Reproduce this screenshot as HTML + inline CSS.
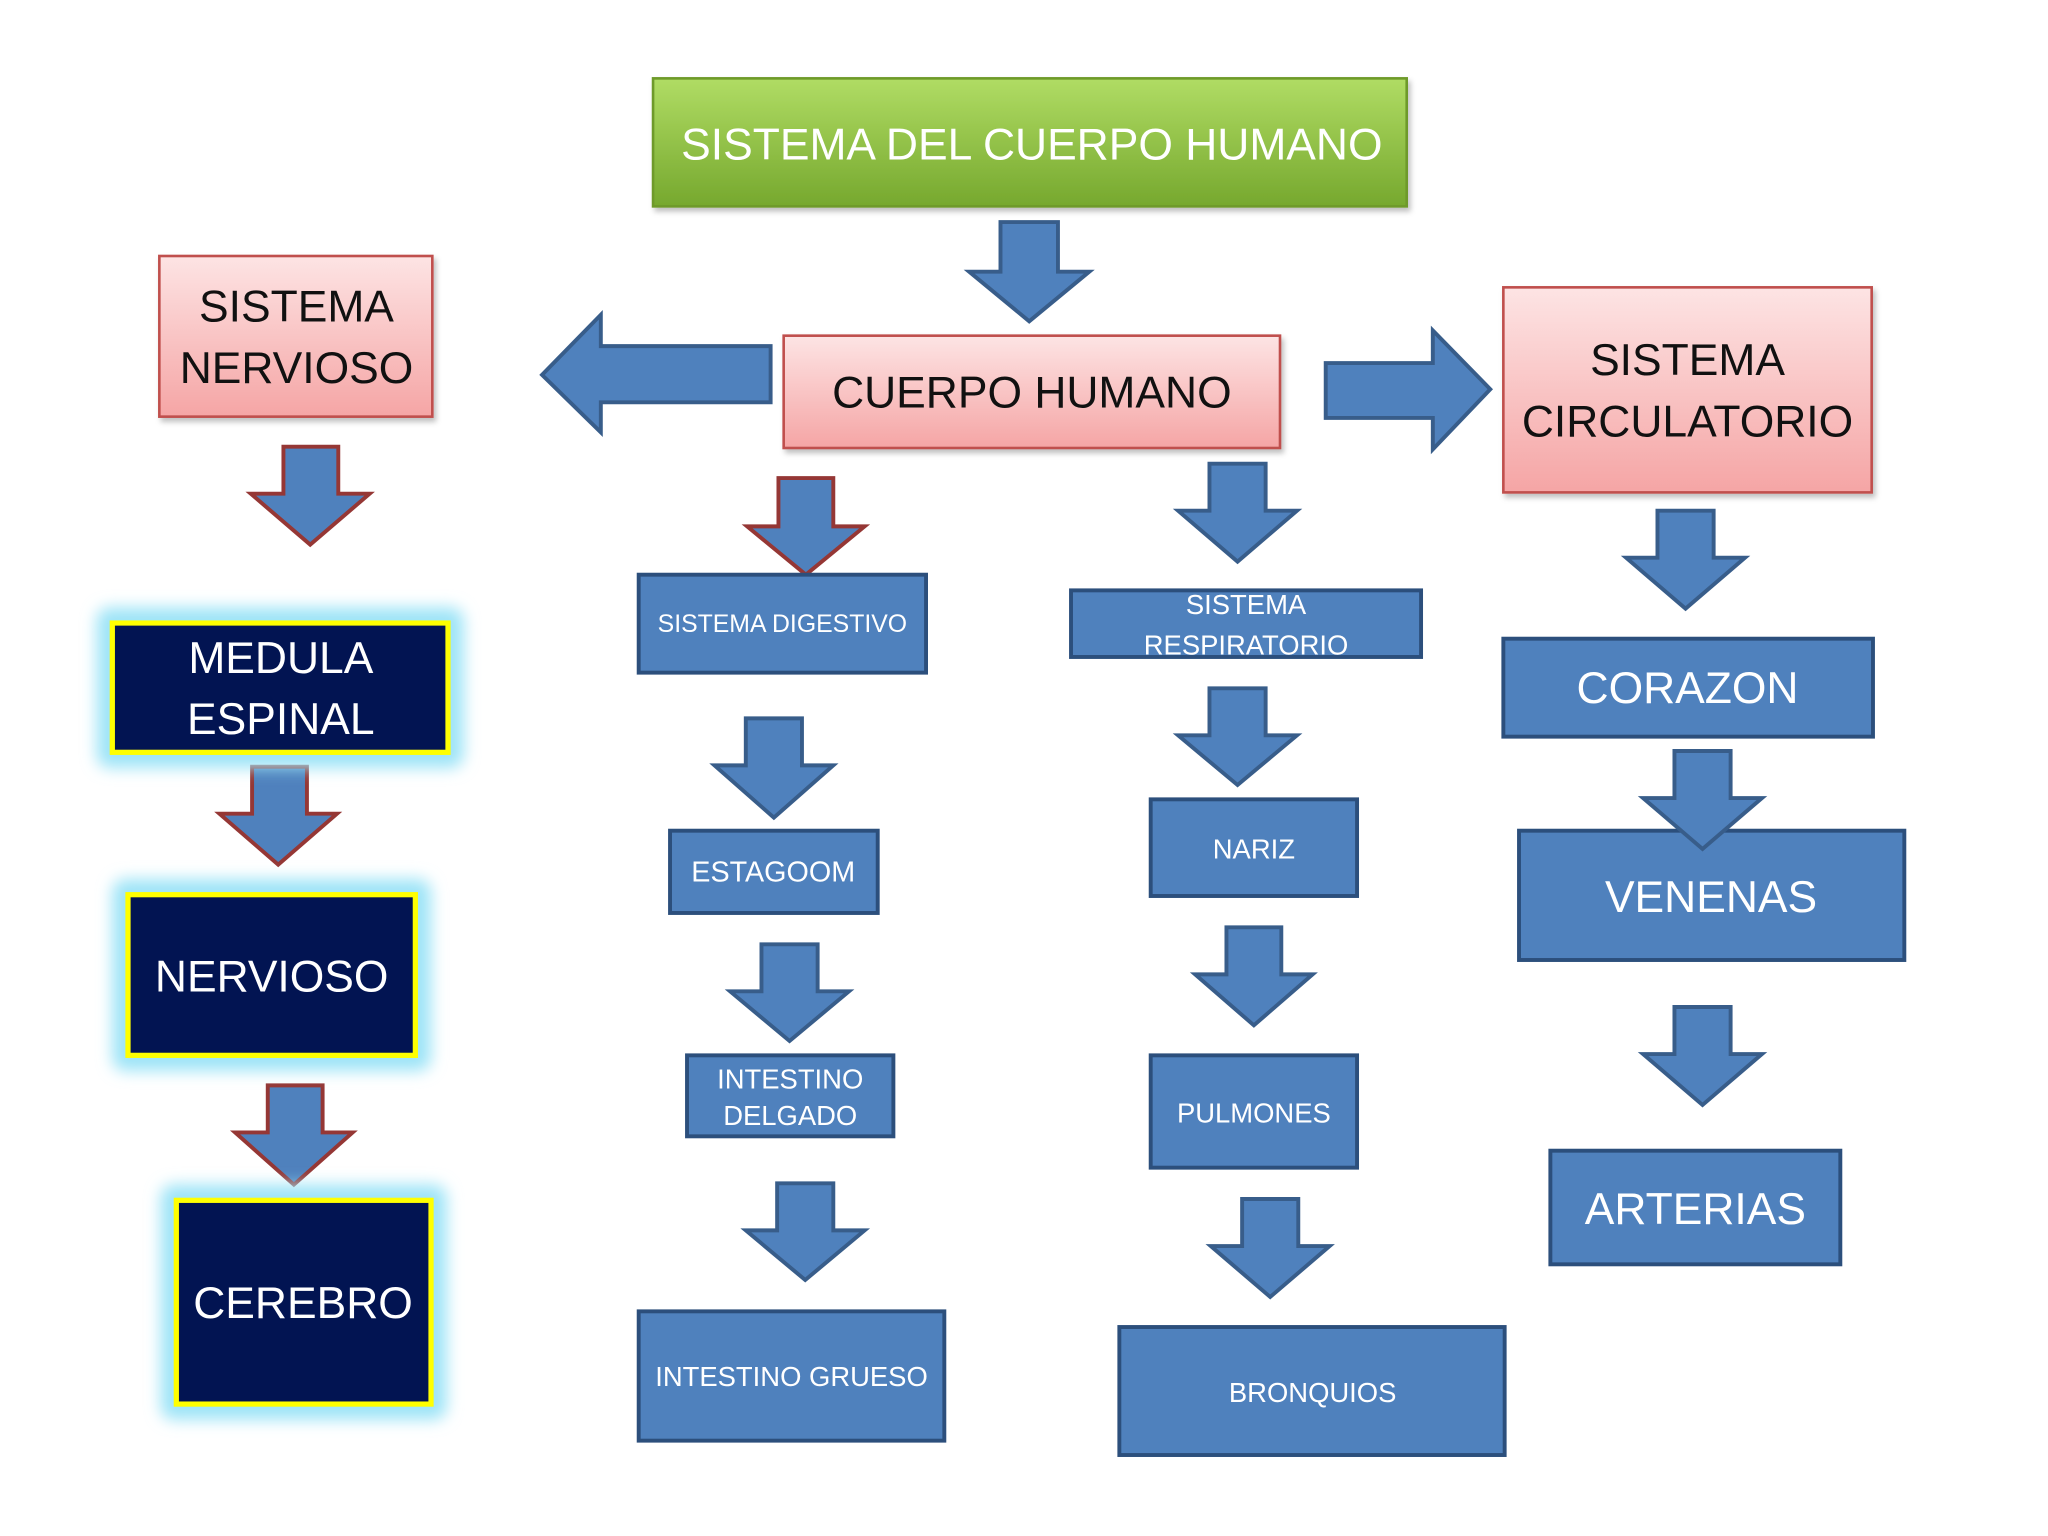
<!DOCTYPE html>
<html><head><meta charset="utf-8"><style>
html,body{margin:0;padding:0;background:#fff;}
svg{display:block;}
text{font-family:"Liberation Sans Narrow","Liberation Sans",sans-serif;text-anchor:middle;dominant-baseline:central;}
</style></head><body>
<svg width="2048" height="1536" viewBox="0 0 1568 1176" xmlns="http://www.w3.org/2000/svg">
<defs>
<linearGradient id="gr" x1="0" y1="0" x2="0" y2="1"><stop offset="0" stop-color="#b0dc64"/><stop offset="1" stop-color="#76a82e"/></linearGradient>
<linearGradient id="pk" x1="0" y1="0" x2="0" y2="1"><stop offset="0" stop-color="#fde4e4"/><stop offset="1" stop-color="#f5a5a5"/></linearGradient>
<filter id="glow" x="-20%" y="-20%" width="140%" height="140%"><feGaussianBlur stdDeviation="6"/></filter>
<filter id="sh" x="-5%" y="-5%" width="110%" height="120%"><feDropShadow dx="2" dy="3" stdDeviation="2" flood-color="#000" flood-opacity="0.25"/></filter>
<symbol id="ad" viewBox="0 0 91 76" overflow="visible"><path d="M24 0 H67 V36 H91 L45.5 76 L0 36 H24 Z"/></symbol>
</defs>

<!-- green title -->
<rect x="500" y="60" width="577" height="98" fill="url(#gr)" stroke="#6e9a2c" stroke-width="2" filter="url(#sh)"/>
<text x="790" y="111" font-size="34" fill="#fff">SISTEMA DEL CUERPO HUMANO</text>

<!-- pink boxes -->
<g fill="url(#pk)" stroke="#c0504d" stroke-width="2" filter="url(#sh)">
<rect x="122" y="196" width="209" height="123"/>
<rect x="600" y="257" width="380" height="86"/>
<rect x="1151" y="220" width="282" height="157"/>
</g>
<g font-size="34" fill="#111">
<text x="227" y="235">SISTEMA</text><text x="227" y="282">NERVIOSO</text>
<text x="790" y="301">CUERPO HUMANO</text>
<text x="1292" y="276">SISTEMA</text><text x="1292" y="323">CIRCULATORIO</text>
</g>

<!-- big arrows -->
<g fill="#4f81bd" stroke="#385d8a" stroke-width="3" stroke-linejoin="miter">
<path d="M766 170 H810 V208 H834 L788 246 L742 208 H766 Z"/>
<path d="M590 265 V308 H460 V331 L415 287 L460 241 V265 Z"/>
<path d="M1015 278 H1097 V253 L1141 298 L1097 344 V320 H1015 Z"/>
</g>

<!-- red-outlined arrows -->
<g fill="#4f81bd" stroke="#953735" stroke-width="3">
<path d="M217 342 H259 V378 H283 L237.5 417 L192 378 H217 Z"/>
<path d="M193 587 H235 V623 H258 L213 662 L168 623 H193 Z"/>
<path d="M205 831 H247 V867 H270 L225 907 L180 867 H205 Z"/>
<path d="M596 366 H638 V403 H662 L617 440 L572 403 H596 Z"/>
</g>

<!-- blue arrows -->
<g fill="#4f81bd" stroke="#385d8a" stroke-width="3">
<path d="M926 355 H969 V391 H993 L947.5 430 L902 391 H926 Z"/>
<path d="M571 550 H614 V586 H638 L592.5 626 L547 586 H571 Z"/>
<path d="M926 527 H969 V563 H993 L947.5 601 L902 563 H926 Z"/>
<path d="M583 723 H626 V759 H650 L604.5 797 L559 759 H583 Z"/>
<path d="M939 710 H981 V746 H1005 L960 785 L915 746 H939 Z"/>
<path d="M1269 391 H1312 V427 H1336 L1290.5 466 L1245 427 H1269 Z"/>
<path d="M595 906 H638 V942 H662 L616.5 980 L571 942 H595 Z"/>
<path d="M951 918 H994 V954 H1018 L972.5 993 L927 954 H951 Z"/>
<path d="M1282 771 H1325 V807 H1349 L1303.5 846 L1258 807 H1282 Z"/>
</g>

<!-- dark boxes with glow -->
<g fill="#9ee4f7" filter="url(#glow)">
<rect x="74" y="465" width="281" height="123" rx="10"/>
<rect x="86" y="673" width="244" height="147" rx="10"/>
<rect x="123" y="907" width="219" height="180" rx="10"/>
</g>
<g fill="#021452" stroke="#ffff00" stroke-width="4">
<rect x="86" y="477" width="257" height="99"/>
<rect x="98" y="685" width="220" height="123"/>
<rect x="135" y="919" width="195" height="156"/>
</g>
<g font-size="34" fill="#fff">
<text x="215" y="504">MEDULA</text><text x="215" y="551">ESPINAL</text>
<text x="208" y="748">NERVIOSO</text>
<text x="232" y="998">CEREBRO</text>
</g>

<!-- blue boxes -->
<g fill="#4f81bd" stroke="#2c4f7c" stroke-width="3">
<rect x="489" y="440" width="220" height="75"/>
<rect x="820" y="452" width="268" height="51"/>
<rect x="513" y="636" width="159" height="63"/>
<rect x="526" y="808" width="158" height="62"/>
<rect x="489" y="1004" width="234" height="99"/>
<rect x="881" y="612" width="158" height="74"/>
<rect x="881" y="808" width="158" height="86"/>
<rect x="857" y="1016" width="295" height="98"/>
<rect x="1151" y="489" width="283" height="75"/>
<rect x="1163" y="636" width="295" height="99"/>
<rect x="1187" y="881" width="222" height="87"/>
</g>
<!-- venenas arrow overlaps box -->
<path d="M1282 575 H1325 V611 H1349 L1303.5 650 L1258 611 H1282 Z" fill="#4f81bd" stroke="#385d8a" stroke-width="3"/>

<g fill="#fff">
<text x="599" y="478" font-size="19">SISTEMA DIGESTIVO</text>
<text x="954" y="463" font-size="21">SISTEMA</text><text x="954" y="494" font-size="21">RESPIRATORIO</text>
<text x="592" y="668" font-size="22">ESTAGOOM</text>
<text x="605" y="826" font-size="21">INTESTINO</text><text x="605" y="854" font-size="21">DELGADO</text>
<text x="606" y="1054" font-size="21">INTESTINO GRUESO</text>
<text x="960" y="650" font-size="21">NARIZ</text>
<text x="960" y="852" font-size="21">PULMONES</text>
<text x="1005" y="1066" font-size="21">BRONQUIOS</text>
<text x="1292" y="527" font-size="34">CORAZON</text>
<text x="1310" y="687" font-size="34">VENENAS</text>
<text x="1298" y="926" font-size="34">ARTERIAS</text>
</g>
</svg>
</body></html>
